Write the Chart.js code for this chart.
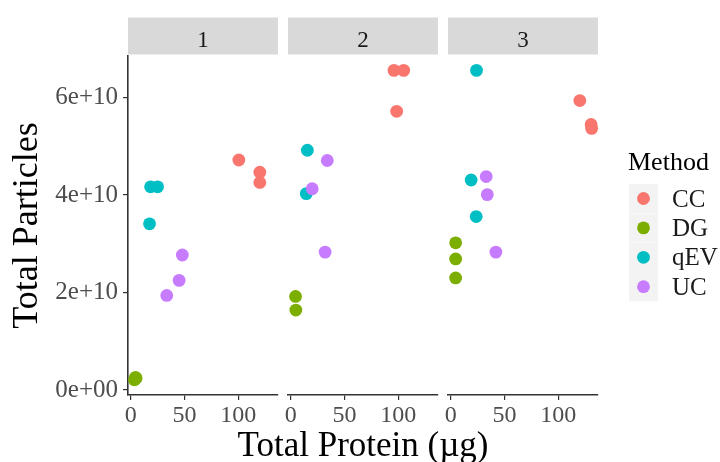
<!DOCTYPE html>
<html>
<head>
<meta charset="utf-8">
<script src="https://cdn.jsdelivr.net/npm/chart.js@4/dist/chart.umd.min.js"></script>
<style>
  html, body { margin: 0; padding: 0; background: #ffffff; }
  #figure { position: relative; width: 720px; height: 462px; overflow: hidden; background: #ffffff; }
  #figure canvas { position: absolute; left: 0; top: 0; }
</style>
</head>
<body>
<div id="figure">
  <canvas id="panel1" width="720" height="462"></canvas>
  <canvas id="panel2" width="720" height="462"></canvas>
  <canvas id="panel3" width="720" height="462"></canvas>
</div>
<script>
// Facet labels and methods
const panelLabels = ['1', '2', '3'];
const methods = ['CC', 'DG', 'qEV', 'UC'];

// Total protein (µg) per method, one inner array per facet
const ccProtein  = [[100.5, 120, 120], [96, 105, 98.5], [120, 130.5, 131]];
const dgProtein  = [[3.5, 4.5, 5], [4.5, 4.8], [4.6, 4.6, 4.6]];
const qevProtein = [[18.5, 25, 17.5], [15.5, 14.5], [24, 19, 23.7]];
const ucProtein  = [[48, 45, 33.5], [34, 20, 32], [33, 34, 42]];

// Total particles per method, one inner array per facet
const ccParticles  = [[4.72e10, 4.47e10, 4.26e10], [6.56e10, 6.56e10, 5.72e10], [5.94e10, 5.45e10, 5.37e10]];
const dgParticles  = [[2.1e9, 2.6e9, 2.4e9], [1.92e10, 1.64e10], [3.02e10, 2.69e10, 2.30e10]];
const qevParticles = [[4.17e10, 4.17e10, 3.41e10], [4.92e10, 4.03e10], [6.56e10, 4.31e10, 3.56e10]];
const ucParticles  = [[2.77e10, 2.25e10, 1.94e10], [4.71e10, 4.13e10, 2.83e10], [4.38e10, 4.01e10, 2.83e10]];

// Axis ticks
const xTickValues = [0, 50, 100];
const xTickLabels = ['0', '50', '100'];
const yTickValues = [0, 2e10, 4e10, 6e10];
const yTickLabels = ['0e+00', '2e+10', '4e+10', '6e+10'];

const methodColors = ['#F8766D', '#7CAE00', '#00BFC4', '#C77CFF'];

const proteinByMethod = [ccProtein, dgProtein, qevProtein, ucProtein];
const particlesByMethod = [ccParticles, dgParticles, qevParticles, ucParticles];

const serif = '"Liberation Serif", "Times New Roman", serif';
const tickColor = '#4D4D4D';
const axisColor = '#333333';

// plot-area placement of each facet: [left, right]
const panelBounds = [[128, 278], [288, 438], [448, 598]];
const plotTop = 56;
const xAxisHeight = 67;

function panelDatasets(p) {
  return methods.map((m, i) => ({
    label: m,
    data: proteinByMethod[i][p].map((x, k) => ({ x: x, y: particlesByMethod[i][p][k] })),
    backgroundColor: methodColors[i],
    borderColor: methodColors[i],
    pointRadius: 6.4,
    pointHoverRadius: 6.4,
    pointBorderWidth: 0,
    order: methods.length - i,
    clip: false
  }));
}

// grey facet strip above each plot area
const facetStrip = {
  id: 'facetStrip',
  beforeDraw(chart, args, opts) {
    const { ctx, chartArea: a } = chart;
    ctx.save();
    ctx.fillStyle = '#D9D9D9';
    ctx.fillRect(a.left, a.top - 38.5, a.right - a.left, 37);
    ctx.fillStyle = '#1A1A1A';
    ctx.font = '23px ' + serif;
    ctx.textAlign = 'center';
    ctx.textBaseline = 'alphabetic';
    ctx.fillText(opts.text, (a.left + a.right) / 2, a.top - 9.5);
    ctx.restore();
  }
};

// shared x-axis title, centred under the middle facet
const sharedXTitle = {
  id: 'sharedXTitle',
  afterDraw(chart, args, opts) {
    if (!opts.text) return;
    const { ctx, chartArea: a } = chart;
    ctx.save();
    ctx.fillStyle = '#000000';
    ctx.font = '35px ' + serif;
    ctx.textAlign = 'center';
    ctx.textBaseline = 'alphabetic';
    ctx.fillText(opts.text, (a.left + a.right) / 2, 456);
    ctx.restore();
  }
};

// method legend at the right of the last facet
const methodLegend = {
  id: 'methodLegend',
  afterDraw(chart, args, opts) {
    if (!opts.show) return;
    const { ctx } = chart;
    const x0 = 628;
    ctx.save();
    ctx.fillStyle = '#000000';
    ctx.font = '26px ' + serif;
    ctx.textAlign = 'left';
    ctx.textBaseline = 'alphabetic';
    ctx.fillText('Method', x0, 170);
    chart.data.datasets.forEach((ds, i) => {
      const cy = 198.5 + i * 29.4;
      ctx.fillStyle = '#F3F3F3';
      ctx.fillRect(x0 + 1, cy - 14.5, 29, 29);
      ctx.beginPath();
      ctx.arc(x0 + 15.5, cy, 6.4, 0, Math.PI * 2);
      ctx.fillStyle = ds.backgroundColor;
      ctx.fill();
      ctx.fillStyle = '#1A1A1A';
      ctx.font = '25px ' + serif;
      ctx.fillText(ds.label, x0 + 44, cy + 8);
    });
    ctx.restore();
  }
};

function makePanel(canvasId, p) {
  const [left, right] = panelBounds[p];
  const showY = p === 0;
  return new Chart(document.getElementById(canvasId), {
    type: 'scatter',
    data: { datasets: panelDatasets(p) },
    plugins: [facetStrip, sharedXTitle, methodLegend],
    options: {
      responsive: false,
      animation: false,
      events: [],
      layout: {
        padding: { top: plotTop, bottom: 0, left: showY ? 0 : left, right: 720 - right }
      },
      plugins: {
        legend: { display: false },
        tooltip: { enabled: false },
        facetStrip: { text: panelLabels[p] },
        sharedXTitle: { text: p === 1 ? 'Total Protein (µg)' : '' },
        methodLegend: { show: p === 2 }
      },
      scales: {
        x: {
          type: 'linear',
          min: -2.5,
          max: 136.9,
          afterBuildTicks: (s) => { s.ticks = xTickValues.map(v => ({ value: v })); },
          afterFit: (s) => { s.height = xAxisHeight; },
          grid: { drawOnChartArea: false, drawTicks: true, tickLength: 5, color: axisColor, lineWidth: 1.2 },
          border: { display: true, color: axisColor, width: 1.6 },
          ticks: {
            autoSkip: false, maxRotation: 0, padding: 1,
            font: { family: serif, size: 24 }, color: tickColor,
            callback: (v) => xTickLabels[xTickValues.indexOf(v)]
          }
        },
        y: {
          type: 'linear',
          display: showY,
          min: -0.103e10,
          max: 6.855e10,
          afterBuildTicks: (s) => { s.ticks = yTickValues.map(v => ({ value: v })); },
          afterFit: (s) => { s.width = showY ? left : 0; },
          grid: { drawOnChartArea: false, drawTicks: true, tickLength: 5, color: axisColor, lineWidth: 1.2 },
          border: { display: true, color: axisColor, width: 1.6 },
          ticks: {
            autoSkip: false, padding: 5,
            font: { family: serif, size: 25 }, color: tickColor,
            callback: (v) => yTickLabels[yTickValues.indexOf(v)]
          },
          title: {
            display: true,
            text: 'Total Particles',
            color: '#000000',
            font: { family: serif, size: 36, lineHeight: 1 },
            padding: { top: 10, bottom: 0 }
          }
        }
      }
    }
  });
}

makePanel('panel1', 0);
makePanel('panel2', 1);
makePanel('panel3', 2);
</script>
</body>
</html>
